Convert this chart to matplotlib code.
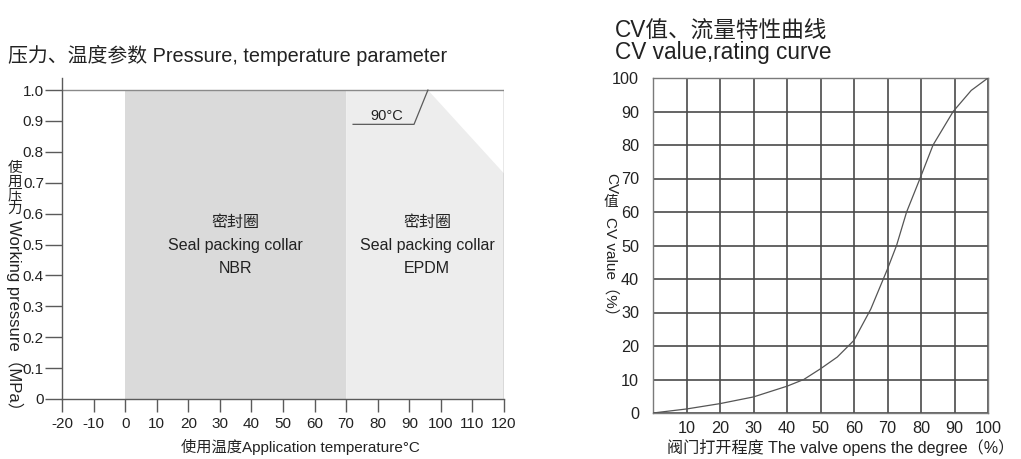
import matplotlib
matplotlib.use("Agg")
import matplotlib.pyplot as plt
from matplotlib.patches import Polygon, Rectangle

plt.rcParams['font.family'] = ['Liberation Sans', 'Noto Sans CJK SC', 'DejaVu Sans']

# ---------- data ----------
temp_ticks = [-20, -10, 0, 10, 20, 30, 40, 50, 60, 70, 80, 90, 100, 110, 120]
pressure_ticks = [0, 0.1, 0.2, 0.3, 0.4, 0.5, 0.6, 0.7, 0.8, 0.9, 1.0]
pressure_labels = ['0', '0.1', '0.2', '0.3', '0.4', '0.5', '0.6', '0.7', '0.8', '0.9', '1.0']
nbr_range = [0, 70]           # temperature range NBR
epdm_range = [70, 120]        # temperature range EPDM
epdm_corner = [95.9, 1.0]     # where derating starts
epdm_end_pressure = 0.73      # pressure at 120 °C
max_pressure = 1.0
label_90_temp = 90

opening = [0, 10, 20, 30, 40, 45, 50, 55, 60, 65, 70, 72.7, 75.7, 79.7, 83.6, 89.6, 95, 100]
cv_value = [0, 1.2, 2.8, 4.8, 8.0, 10, 13.2, 16.7, 21.7, 31, 43, 50, 60, 70, 80, 90, 96.3, 100]
open_ticks = [10, 20, 30, 40, 50, 60, 70, 80, 90, 100]
cv_ticks = [0, 10, 20, 30, 40, 50, 60, 70, 80, 90, 100]

W, H = 1021, 459
fig = plt.figure(figsize=(W / 100, H / 100), dpi=100)

def fx(px):
    return px / W

def fy(py):
    return 1 - py / H

txt = '#222222'
line_c = '#5a5a5a'

# ---------- left chart ----------
ax = fig.add_axes([fx(62), fy(399), fx(504) - fx(62), fy(78) - fy(399)])
ax.set_xlim(-20, 120)
ax.set_ylim(0, 1.039)
ax.add_patch(Rectangle((nbr_range[0], 0), nbr_range[1] - nbr_range[0], max_pressure,
                       facecolor='#dadada', edgecolor='none', zorder=0))
ax.add_patch(Polygon([(epdm_range[0], 0), (epdm_range[0], max_pressure), tuple(epdm_corner),
                      (epdm_range[1], epdm_end_pressure), (epdm_range[1], 0)],
                     closed=True, facecolor='#ededed', edgecolor='none', zorder=0))
ax.plot([-20, 120], [max_pressure, max_pressure], color='#8a8a8a', lw=1.0, zorder=2)
ax.plot([120, 120], [0, max_pressure], color='#8a8a8a', lw=1.0, zorder=2)
# 90°C annotation
ax.plot([72.2, 91.5, epdm_corner[0]], [0.889, 0.889, epdm_corner[1]], color=line_c, lw=0.9, zorder=3)
ax.text(82.9, 0.915, f'{label_90_temp}°C', ha='center', va='center', fontsize=10.5, color=txt)

for cx, mat in [((nbr_range[0] + nbr_range[1]) / 2, 'NBR'), (95.6, 'EPDM')]:
    ax.text(cx, 0.572, '密封圈', ha='center', va='center', fontsize=11.5, color=txt,
            family=['Noto Sans CJK SC'])
    ax.text(cx, 0.497, 'Seal packing collar', ha='center', va='center', fontsize=11.5, color=txt)
    ax.text(cx, 0.424, mat, ha='center', va='center', fontsize=11.5, color=txt)

for s in ['top', 'right']:
    ax.spines[s].set_visible(False)
for s in ['left', 'bottom']:
    ax.spines[s].set_color(line_c)
    ax.spines[s].set_linewidth(1.0)
ax.set_xticks(temp_ticks)
ax.set_xticklabels([str(t) for t in temp_ticks])
ax.set_yticks(pressure_ticks)
ax.set_yticklabels(pressure_labels)
ax.tick_params(axis='y', length=12, width=1.0, color=line_c, labelsize=11, labelcolor=txt, pad=1)
ax.tick_params(axis='x', length=9, width=1.0, color=line_c, labelsize=11, labelcolor=txt, pad=4)

fig.text(fx(8), fy(55), '压力、温度参数 Pressure, temperature parameter', fontsize=14.3,
         ha='left', va='center', color=txt)
fig.text(fx(300), fy(447), '使用温度Application temperature°C', fontsize=11,
         ha='center', va='center', color=txt)
for i, ch in enumerate('使用压力'):
    fig.text(fx(15), fy(168 + 13.5 * i), ch, fontsize=10.5, ha='center', va='center', color=txt,
             family=['Noto Sans CJK SC'])
fig.text(fx(15), fy(319), 'Working pressure（MPa）', rotation=270, fontsize=12,
         ha='center', va='center', color=txt, rotation_mode='anchor')

# ---------- right chart ----------
ax2 = fig.add_axes([fx(653), fy(413), fx(988) - fx(653), fy(78) - fy(413)])
ax2.set_xlim(0, 100)
ax2.set_ylim(0, 100)
ax2.set_xticks(open_ticks)
ax2.set_xticklabels([str(t) for t in open_ticks])
ax2.set_yticks(cv_ticks)
ax2.set_yticklabels([str(t) for t in cv_ticks])
ax2.grid(True, color='#4a4a4a', lw=1.2)
ax2.set_axisbelow(True)
for s in ax2.spines.values():
    s.set_color('#7a7a7a')
    s.set_linewidth(1.0)
ax2.tick_params(length=0, labelsize=11.7, labelcolor=txt)
ax2.tick_params(axis='y', pad=10)
ax2.tick_params(axis='x', pad=6)
ax2.plot(opening, cv_value, color='#555555', lw=0.9, zorder=3)

fig.text(fx(615), fy(30), 'CV值、流量特性曲线', fontsize=16.3, ha='left', va='center', color=txt)
fig.text(fx(615), fy(52), 'CV value,rating curve', fontsize=16.3, ha='left', va='center', color=txt)
fig.text(fx(841), fy(448), '阀门打开程度 The valve opens the degree（%）', fontsize=11.6,
         ha='center', va='center', color=txt)
fig.text(fx(611), fy(184), 'CV', rotation=270, fontsize=11, ha='center', va='center', color=txt,
         rotation_mode='anchor')
fig.text(fx(611), fy(202), '值', fontsize=10.5, ha='center', va='center', color=txt,
         family=['Noto Sans CJK SC'])
fig.text(fx(611), fy(270), 'CV value（%）', rotation=270, fontsize=11, ha='center', va='center',
         color=txt, rotation_mode='anchor')

fig.savefig('out.png', dpi=100)
